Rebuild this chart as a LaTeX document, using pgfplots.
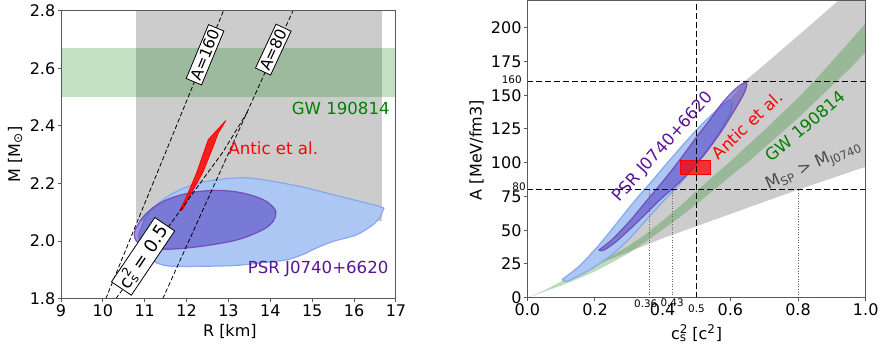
\documentclass[border=0pt]{standalone}
\usepackage{fontspec}
\setmainfont{DejaVu Sans}
\usepackage{pgfplots}
\pgfplotsset{compat=1.18}
\definecolor{lblue}{RGB}{172,199,244}
\definecolor{lblueedge}{RGB}{135,168,236}
\definecolor{purp}{RGB}{80,60,190}
\definecolor{purpedge}{RGB}{110,60,175}
\definecolor{gwgreen}{RGB}{34,139,34}
\definecolor{gwtext}{RGB}{0,128,0}
\definecolor{txtpurp}{RGB}{90,20,150}
\newcommand{\csq}{c\rlap{\textsuperscript{2}}\textsubscript{s}}
\begin{document}
\begin{tikzpicture}
\useasboundingbox (0,0) rectangle (440.5pt,174.5pt);
\pgfplotsset{mystyle/.style={
  scale only axis, clip=false, axis on top,
  tick align=outside, major tick length=1.5pt,
  xtick pos=bottom, ytick pos=left, minor tick num=0,
  axis line style={black!65, line width=0.5pt},
  tick style={black!65, line width=0.5pt},
  tick label style={font=\fontsize{8}{9}\selectfont, inner sep=1.2pt, text=black},
  label style={font=\fontsize{8}{9}\selectfont},
  /pgf/number format/assume math mode=true,
}}
% ---------------- left panel ----------------
\begin{axis}[mystyle, at={(30.5pt,25.15pt)}, anchor=south west,
  width=167.5pt, height=144pt,
  xmin=9, xmax=17, ymin=1.8, ymax=2.8,
  xtick={9,10,...,17}, ytick={1.8,2.0,2.2,2.4,2.6,2.8},
  y tick label style={/pgf/number format/fixed,/pgf/number format/fixed zerofill,/pgf/number format/precision=1},
  xlabel={R [km]}, ylabel={M [M\textsubscript{⊙}]},
  xlabel style={at={(axis description cs:0.504,-0.1135)}, anchor=center},
  ylabel style={at={(axis description cs:-0.137,0.5)}, anchor=center},
]
\addplot[fill=black!20, draw=none] coordinates {(10.8,2.07)(16.67,2.07)(16.67,2.8)(10.8,2.8)} -- cycle;
\addplot[fill=gwgreen, fill opacity=0.27, draw=none] coordinates {(9,2.5)(17,2.5)(17,2.67)(9,2.67)} -- cycle;
\addplot[smooth, tension=0.5, fill=lblue, draw=lblueedge, line width=0.6pt] coordinates {
(10.85,2.02)(10.98,1.955)(11.2,1.93)(11.5,1.915)(11.92,1.912)(13.11,1.915)(13.8,1.925)(14.39,1.935)(14.8,1.955)(15.10,1.976)(15.50,1.999)(16.06,2.022)(16.45,2.057)(16.62,2.085)(16.69,2.109)(16.61,2.12)(15.50,2.161)(14.70,2.19)(13.51,2.219)(12.72,2.213)(12.16,2.196)(11.6,2.16)(11.1,2.1)(10.85,2.02)};
\addplot[smooth, tension=0.6, fill=purp, fill opacity=0.55, draw=purpedge, draw opacity=0.8, line width=0.6pt] coordinates {
(10.750,2.022)(10.806,2.051)(11.045,2.097)(11.442,2.138)(11.999,2.165)(12.636,2.176)(13.272,2.169)(13.829,2.144)(14.084,2.115)(14.131,2.097)(14.068,2.069)(13.829,2.040)(13.272,2.007)(12.636,1.988)(11.999,1.976)(11.442,1.972)(11.045,1.982)(10.806,1.999)(10.750,2.022)};
\addplot[fill=red, fill opacity=0.85, draw=red, line width=0.4pt] coordinates {
(11.840,2.107)(11.999,2.155)(12.238,2.236)(12.516,2.352)(12.938,2.419)(12.755,2.375)(12.636,2.329)(12.397,2.242)(11.903,2.109)(11.840,2.107)} -- cycle;
\addplot[black, line width=0.4pt, dash pattern=on 2.2pt off 1.2pt] coordinates {(10.07,1.8)(12.88,2.8)};
\addplot[black, line width=0.4pt, dash pattern=on 2.2pt off 1.2pt] coordinates {(11.43,1.8)(14.54,2.8)};
\addplot[black, line width=0.4pt, dash pattern=on 2.2pt off 1.2pt] coordinates {(10.31,1.8)(12.87,2.31)(13.46,2.45)};
\node[draw, fill=white, rotate=67.5, inner sep=1.2pt, line width=0.4pt, font=\fontsize{7.8}{8}\selectfont] at (axis cs:12.44,2.647) {A=160};
\node[draw, fill=white, rotate=65, inner sep=1.2pt, line width=0.4pt, font=\fontsize{7.8}{8}\selectfont] at (axis cs:14.07,2.665) {A=80};
\node[draw, fill=white, rotate=56, inner sep=1.3pt, line width=0.4pt, font=\fontsize{9}{10}\selectfont] at (axis cs:10.96,1.947) {\csq{} = 0.5};
\node[text=gwtext, font=\fontsize{8.3}{9}\selectfont] at (axis cs:15.68,2.462) {GW 190814};
\node[text=red, font=\fontsize{8.3}{9}\selectfont] at (axis cs:14.07,2.321) {Antic et al.};
\node[text=txtpurp, font=\fontsize{8.3}{9}\selectfont] at (axis cs:15.14,1.903) {PSR J0740+6620};
\end{axis}
% ---------------- right panel ----------------
\begin{axis}[mystyle, at={(263.65pt,25.65pt)}, anchor=south west,
  width=169.2pt, height=148.5pt,
  xmin=0, xmax=1, ymin=0, ymax=220,
  xtick={0,0.2,0.4,0.6,0.8,1.0}, ytick={0,25,...,200},
  x tick label style={/pgf/number format/fixed,/pgf/number format/fixed zerofill,/pgf/number format/precision=1},
  xlabel={\csq{} [c\textsuperscript{2}]}, ylabel={A [MeV/fm3]},
  xlabel style={at={(axis description cs:0.5006,-0.119)}, anchor=center},
  ylabel style={at={(axis description cs:-0.1495,0.497)}, anchor=center},
]
\addplot[fill=black!20, draw=none] coordinates {
(0.11,14)(0.2,34)(0.3,62)(0.4,90)(0.5,118)(0.58,141)(0.643,160.5)(0.7,172.5)(0.8,194)(0.919,220)(1,220)
(1,97)(0.9,88.5)(0.8,80)(0.7,71)(0.6,62)(0.5,53)(0.4,44)(0.3,34)(0.2,24)(0.15,18.5)(0.11,14)} -- cycle;
\addplot[fill=gwgreen, fill opacity=0.3, draw=none] coordinates {
(0,0)(0.05,5.5)(0.1,12)(0.15,18)(0.2,24.5)(0.25,31)(0.3,38.5)(0.35,47)(0.4,57)(0.45,67.5)(0.5,79)(0.55,90)(0.6,101)(0.65,112.5)(0.7,124)(0.75,136)(0.8,148)(0.85,161)(0.9,175)(0.95,189)(1.0,203.5)
(1.0,182)(0.95,169)(0.9,157)(0.85,145)(0.8,133)(0.75,122)(0.7,111)(0.65,100)(0.6,90)(0.55,79.5)(0.5,69.5)(0.45,59.5)(0.4,50.5)(0.35,41.5)(0.3,33)(0.25,26)(0.2,19.5)(0.15,14)(0.1,9)(0.05,4.5)(0,0)} -- cycle;
\addplot[smooth, tension=0.5, fill=lblue, draw=lblueedge, line width=0.6pt] coordinates {
(0.103,13.5)(0.156,24)(0.215,40)(0.27,57)(0.315,71)(0.36,84)(0.421,102)(0.47,116)(0.51,127)(0.56,139)(0.59,145.5)(0.6,146.5)
(0.605,143)(0.6,137)(0.585,130)(0.55,116)(0.5,99)(0.45,84)(0.404,72)(0.353,58)(0.295,42)(0.25,32)(0.2,23)(0.15,16)(0.115,12)(0.103,13.5)};
\addplot[smooth, tension=0.5, fill=purp, fill opacity=0.55, draw=purpedge, draw opacity=0.8, line width=0.6pt] coordinates {
(0.211,35.3)(0.25,43)(0.3,56)(0.35,71)(0.4,86)(0.45,102)(0.5,119)(0.54,132)(0.575,144)(0.61,153.5)(0.635,158.5)(0.647,159.5)
(0.648,157)(0.64,151)(0.615,140)(0.57,122)(0.52,105)(0.46,88)(0.39,72)(0.35,62)(0.30,50)(0.26,41)(0.225,35)(0.211,35.3)};
\addplot[fill=red, fill opacity=0.75, draw=red, line width=0.5pt] coordinates {(0.453,91)(0.542,91)(0.542,101.5)(0.453,101.5)} -- cycle;
\addplot[black, line width=0.6pt, dash pattern=on 3pt off 1.5pt] coordinates {(0,80)(1,80)};
\addplot[black, line width=0.6pt, dash pattern=on 3pt off 1.5pt] coordinates {(0,160)(1,160)};
\addplot[black, line width=0.6pt, dash pattern=on 3pt off 1.5pt] coordinates {(0.5,0)(0.5,220)};
\addplot[black!60, line width=0.35pt, dash pattern=on 0.5pt off 0.8pt] coordinates {(0.36,0)(0.36,80)};
\addplot[black!60, line width=0.35pt, dash pattern=on 0.5pt off 0.8pt] coordinates {(0.43,0)(0.43,80)};
\addplot[black!60, line width=0.35pt, dash pattern=on 0.5pt off 0.8pt] coordinates {(0.8,0)(0.8,80)};
\node[font=\fontsize{5.2}{6}\selectfont, inner sep=0pt] at (axis cs:-0.046,161.8) {160};
\node[font=\fontsize{5.2}{6}\selectfont, inner sep=0pt] at (axis cs:-0.0245,82.2) {80};
\node[font=\fontsize{5.2}{6}\selectfont, inner sep=0pt] at (axis cs:0.35,-4.1) {0.36};
\node[font=\fontsize{5.2}{6}\selectfont, inner sep=0pt] at (axis cs:0.428,-3.7) {0.43};
\node[font=\fontsize{5.2}{6}\selectfont, inner sep=0pt] at (axis cs:0.5,-7.9) {0.5};
\node[rotate=48, text=txtpurp, font=\fontsize{8.3}{9}\selectfont] at (axis cs:0.402,111.4) {PSR J0740+6620};
\node[rotate=43, text=red, font=\fontsize{8.3}{9}\selectfont] at (axis cs:0.650,127.9) {Antic et al.};
\node[rotate=40.5, text=gwtext, font=\fontsize{8.3}{9}\selectfont] at (axis cs:0.821,127.2) {GW 190814};
\node[rotate=24, text=black!70, font=\fontsize{8.3}{9}\selectfont] at (axis cs:0.847,97.8) {M\textsubscript{SP} > M\textsubscript{J0740}};
\end{axis}
\end{tikzpicture}
\end{document}
